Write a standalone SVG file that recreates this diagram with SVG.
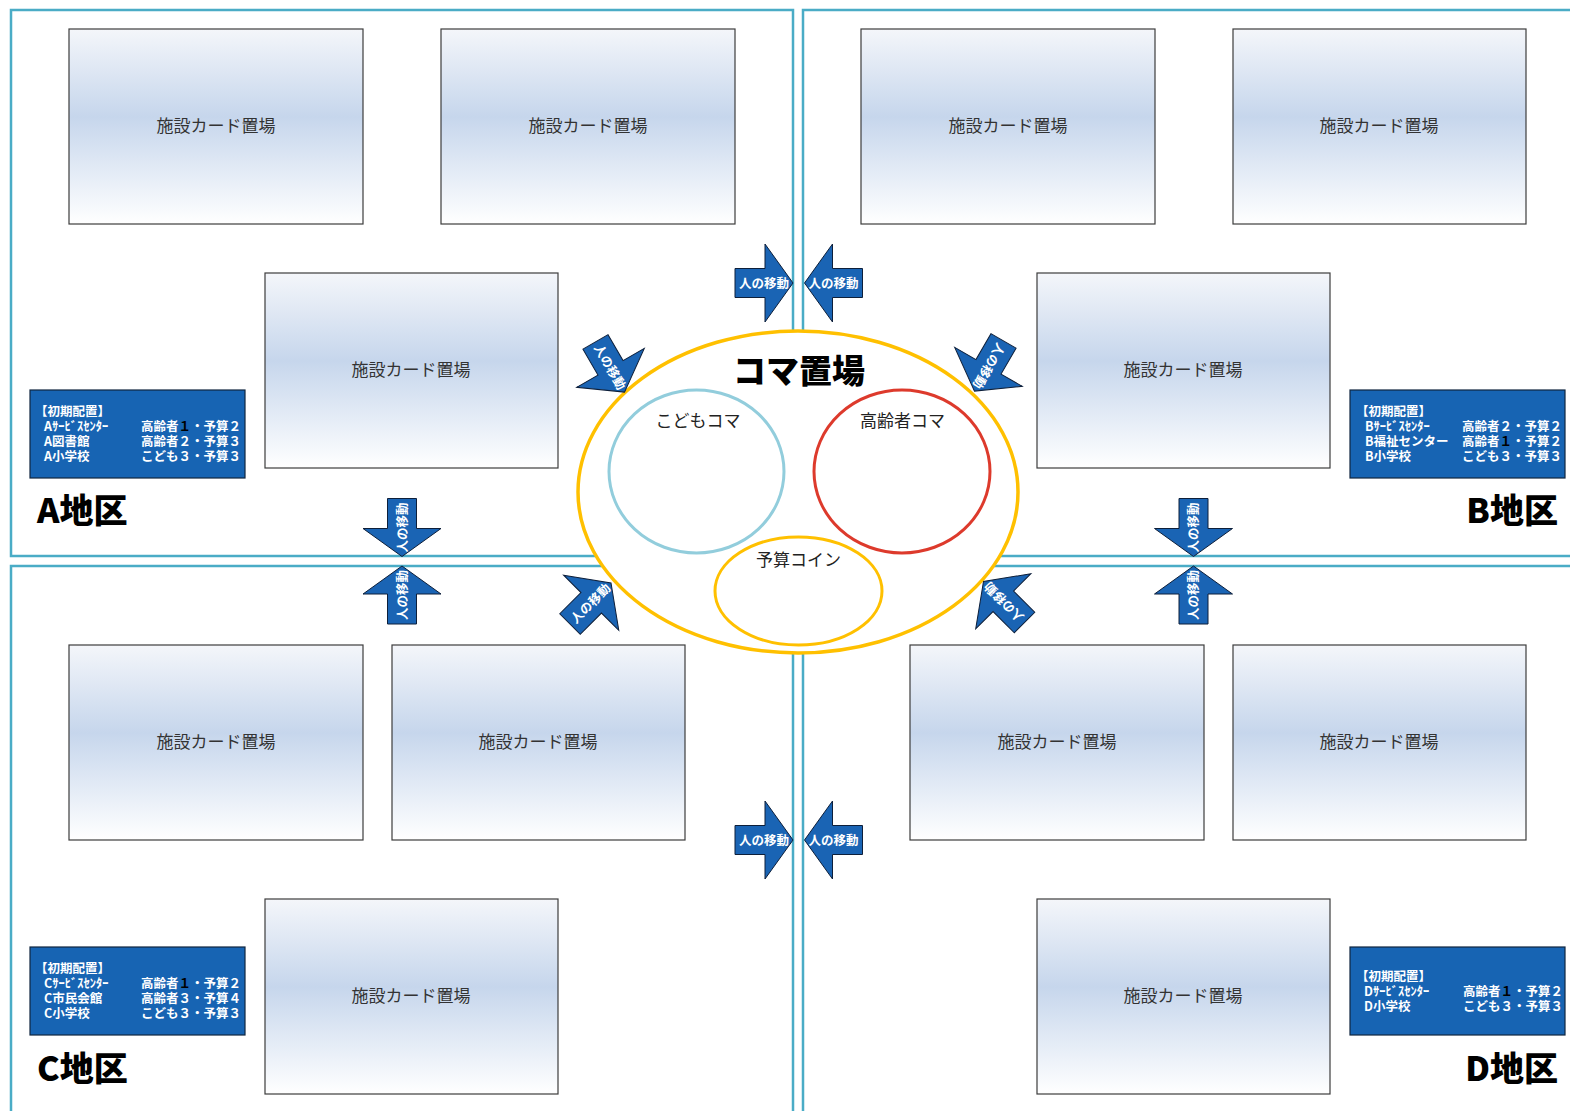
<svg xmlns="http://www.w3.org/2000/svg" width="1570" height="1111" viewBox="0 0 1570 1111">
<defs>
<linearGradient id="cardGrad" x1="0" y1="0" x2="0" y2="1">
<stop offset="0" stop-color="#f4f6fa"/>
<stop offset="0.45" stop-color="#c6d6ec"/>
<stop offset="1" stop-color="#ffffff"/>
</linearGradient>
<path id="arrow" d="M-29,-14.5 H1 V-39 L29,0 L1,39 V14.5 H-29 Z"/>
</defs>
<style>
.frame{fill:none;stroke:#4aacc6;stroke-width:2.5}
.card{fill:url(#cardGrad);stroke:#3c3c3c;stroke-width:1.2}
.cardtxt{font-family:"Noto Sans CJK JP","Noto Sans",sans-serif;font-size:17px;fill:#333;text-anchor:middle}
.info{fill:#1764b3;stroke:#10253f;stroke-width:1.2}
.infotxt{font-family:"Noto Sans CJK JP","Noto Sans",sans-serif;font-size:12.5px;font-weight:700;fill:#fff}
.k{fill:#000}
.district{font-family:"Noto Sans CJK JP","Noto Sans",sans-serif;font-size:34px;font-weight:900;fill:#000}
.arr{fill:#1a64b4;stroke:#0d1f3a;stroke-width:1}
.arrtxt{font-family:"Noto Sans CJK JP","Noto Sans",sans-serif;font-size:12.5px;font-weight:700;fill:#fff;text-anchor:middle}
.ctxt{font-family:"Noto Sans CJK JP","Noto Sans",sans-serif;font-size:17px;fill:#222;text-anchor:middle}
</style>
<rect width="1570" height="1111" fill="#fff"/>

<g id="district-A">
<rect class="frame" x="11" y="10" width="782" height="546"/>
<text class="district" x="37" y="523">A地区</text>
</g>
<g id="district-B">
<rect class="frame" x="803" y="10" width="800" height="546"/>
<text class="district" x="1558" y="523" text-anchor="end">B地区</text>
</g>
<g id="district-C">
<rect class="frame" x="11" y="566" width="782" height="600"/>
<text class="district" x="37" y="1081">C地区</text>
</g>
<g id="district-D">
<rect class="frame" x="803" y="566" width="800" height="600"/>
<text class="district" x="1558" y="1081" text-anchor="end">D地区</text>
</g>

<g id="card-A1"><rect class="card" x="69" y="29" width="294" height="195"/><text class="cardtxt" x="216" y="132">施設カード置場</text></g>
<g id="card-A2"><rect class="card" x="441" y="29" width="294" height="195"/><text class="cardtxt" x="588" y="132">施設カード置場</text></g>
<g id="card-A3"><rect class="card" x="265" y="273" width="293" height="195"/><text class="cardtxt" x="411" y="376">施設カード置場</text></g>
<g id="card-B1"><rect class="card" x="861" y="29" width="294" height="195"/><text class="cardtxt" x="1008" y="132">施設カード置場</text></g>
<g id="card-B2"><rect class="card" x="1233" y="29" width="293" height="195"/><text class="cardtxt" x="1379" y="132">施設カード置場</text></g>
<g id="card-B3"><rect class="card" x="1037" y="273" width="293" height="195"/><text class="cardtxt" x="1183" y="376">施設カード置場</text></g>
<g id="card-C1"><rect class="card" x="69" y="645" width="294" height="195"/><text class="cardtxt" x="216" y="748">施設カード置場</text></g>
<g id="card-C2"><rect class="card" x="392" y="645" width="293" height="195"/><text class="cardtxt" x="538" y="748">施設カード置場</text></g>
<g id="card-C3"><rect class="card" x="265" y="899" width="293" height="195"/><text class="cardtxt" x="411" y="1002">施設カード置場</text></g>
<g id="card-D1"><rect class="card" x="910" y="645" width="294" height="195"/><text class="cardtxt" x="1057" y="748">施設カード置場</text></g>
<g id="card-D2"><rect class="card" x="1233" y="645" width="293" height="195"/><text class="cardtxt" x="1379" y="748">施設カード置場</text></g>
<g id="card-D3"><rect class="card" x="1037" y="899" width="293" height="195"/><text class="cardtxt" x="1183" y="1002">施設カード置場</text></g>

<g id="info-A">
<rect class="info" x="30" y="390" width="215" height="88"/>
<text class="infotxt" x="35" y="416" font-size="12">【初期配置】</text>
<text class="infotxt"><tspan x="44" y="431">Aｻｰﾋﾞｽｾﾝﾀｰ</tspan><tspan x="44" y="446">A図書館</tspan><tspan x="44" y="461">A小学校</tspan></text>
<text class="infotxt"><tspan x="141" y="431">高齢者<tspan class="k">１</tspan>・予算２</tspan><tspan x="141" y="446">高齢者２・予算３</tspan><tspan x="141" y="461">こども３・予算３</tspan></text>
</g>
<g id="info-B">
<rect class="info" x="1350" y="390" width="215" height="88"/>
<text class="infotxt" x="1356" y="416" font-size="12">【初期配置】</text>
<text class="infotxt"><tspan x="1365" y="431">Bｻｰﾋﾞｽｾﾝﾀｰ</tspan><tspan x="1365" y="446">B福祉センター</tspan><tspan x="1365" y="461">B小学校</tspan></text>
<text class="infotxt"><tspan x="1462" y="431">高齢者２・予算２</tspan><tspan x="1462" y="446">高齢者<tspan class="k">１</tspan>・予算２</tspan><tspan x="1462" y="461">こども３・予算３</tspan></text>
</g>
<g id="info-C">
<rect class="info" x="30" y="947" width="215" height="88"/>
<text class="infotxt" x="35" y="973" font-size="12">【初期配置】</text>
<text class="infotxt"><tspan x="44" y="988">Cｻｰﾋﾞｽｾﾝﾀｰ</tspan><tspan x="44" y="1003">C市民会館</tspan><tspan x="44" y="1018">C小学校</tspan></text>
<text class="infotxt"><tspan x="141" y="988">高齢者<tspan class="k">１</tspan>・予算２</tspan><tspan x="141" y="1003">高齢者３・予算４</tspan><tspan x="141" y="1018">こども３・予算３</tspan></text>
</g>
<g id="info-D">
<rect class="info" x="1350" y="947" width="215" height="88"/>
<text class="infotxt" x="1356" y="981" font-size="12">【初期配置】</text>
<text class="infotxt"><tspan x="1364" y="996">Dｻｰﾋﾞｽｾﾝﾀｰ</tspan><tspan x="1364" y="1011">D小学校</tspan></text>
<text class="infotxt"><tspan x="1463" y="996">高齢者<tspan class="k">１</tspan>・予算２</tspan><tspan x="1463" y="1011">こども３・予算３</tspan></text>
</g>

<g id="koma-okiba">
<ellipse cx="798" cy="492" rx="220" ry="161" fill="#fff" stroke="#ffc000" stroke-width="3.5"/>
<text x="799" y="383" font-family="'Noto Sans CJK JP',sans-serif" font-size="33" font-weight="900" fill="#000" text-anchor="middle">コマ置場</text>
</g>
<g id="budget-coin">
<ellipse cx="798.5" cy="591" rx="83.5" ry="54" fill="#fff" stroke="#ffc000" stroke-width="3"/>
<text class="ctxt" x="798.5" y="566">予算コイン</text>
</g>
<g id="child-koma">
<ellipse cx="696.5" cy="471.5" rx="87.5" ry="81.5" fill="none" stroke="#92cddc" stroke-width="3"/>
<text class="ctxt" x="698" y="427">こどもコマ</text>
</g>
<g id="elder-koma">
<ellipse cx="902" cy="471.5" rx="88" ry="81.5" fill="none" stroke="#dd3a2c" stroke-width="3"/>
<text class="ctxt" x="902.5" y="427">高齢者コマ</text>
</g>

<g id="connectors">
<g transform="translate(764,283)"><use href="#arrow" class="arr"/><text class="arrtxt" y="4.5">人の移動</text></g>
<g transform="translate(833.5,283)"><use href="#arrow" class="arr" transform="rotate(180)"/><text class="arrtxt" y="4.5">人の移動</text></g>
<g transform="translate(764,840)"><use href="#arrow" class="arr"/><text class="arrtxt" y="4.5">人の移動</text></g>
<g transform="translate(833.5,840)"><use href="#arrow" class="arr" transform="rotate(180)"/><text class="arrtxt" y="4.5">人の移動</text></g>
<g transform="translate(402,527.5)"><use href="#arrow" class="arr" transform="rotate(90)"/><text class="arrtxt" y="4.5" transform="rotate(-90)">人の移動</text></g>
<g transform="translate(402,595)"><use href="#arrow" class="arr" transform="rotate(-90)"/><text class="arrtxt" y="4.5" transform="rotate(-90)">人の移動</text></g>
<g transform="translate(1193.5,527.5)"><use href="#arrow" class="arr" transform="rotate(90)"/><text class="arrtxt" y="4.5" transform="rotate(-90)">人の移動</text></g>
<g transform="translate(1193.5,595)"><use href="#arrow" class="arr" transform="rotate(-90)"/><text class="arrtxt" y="4.5" transform="rotate(-90)">人の移動</text></g>
<g transform="translate(610,367) rotate(60)"><use href="#arrow" class="arr"/><text class="arrtxt" y="4.5">人の移動</text></g>
<g transform="translate(989,366) rotate(120)"><use href="#arrow" class="arr"/><text class="arrtxt" y="4.5">人の移動</text></g>
<g transform="translate(590.5,603.5) rotate(-45)"><use href="#arrow" class="arr"/><text class="arrtxt" y="4.5">人の移動</text></g>
<g transform="translate(1004,602) rotate(225)"><use href="#arrow" class="arr"/><text class="arrtxt" y="4.5">人の移動</text></g>
</g>
</svg>
